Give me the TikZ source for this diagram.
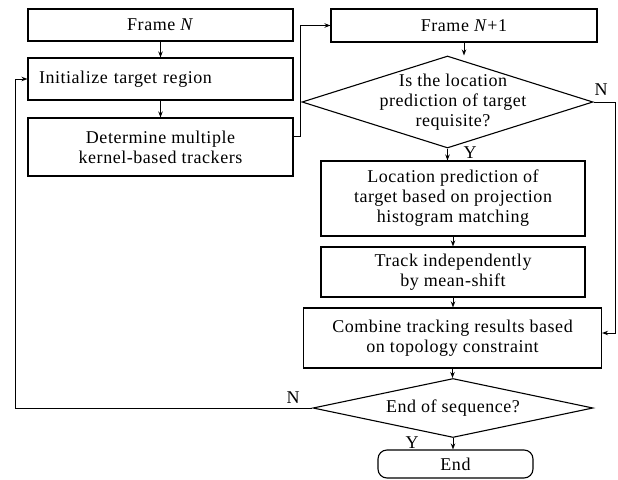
\documentclass[tikz,border=0pt]{standalone}
\usepackage{fontspec}
\setmainfont{Liberation Serif}[LetterSpace=3]
\usetikzlibrary{shapes.geometric,arrows.meta}
\tikzset{
  box/.style={draw, line width=1.1pt, rectangle, inner sep=0pt, align=center},
  dia/.style={draw, line width=1.1pt, diamond, inner sep=0pt, aspect=1},
  txt/.style={align=center, inner sep=0pt},
  endbox/.style={draw, line width=1.1pt, rectangle, rounded corners=9pt, inner sep=0pt},
  flow/.style={line width=1pt, -{Stealth[length=6pt,width=4.5pt]}},
  lab/.style={inner sep=0pt}
}
\begin{document}
\begin{tikzpicture}[x=1pt,y=-1pt,font=\fontsize{18}{20}\selectfont]
\useasboundingbox (0,0) rectangle (618,479);
% left column
\node[box, minimum width=265pt, minimum height=32pt] (fn) at (160.5,25) {Frame \textit{N}};
\node[box, text width=243pt, inner xsep=11pt, minimum height=42pt, align=left] (init) at (160.5,79) {Initialize target region};
\node[box, minimum width=265pt, minimum height=58pt] (det) at (160.5,147) {Determine multiple\\kernel-based trackers};
% right column
\node[box, minimum width=266pt, minimum height=33pt] (fn1) at (464,25.5) {Frame \textit{N}+1};
\node[dia, minimum width=291pt, minimum height=92pt] (d1) at (447.5,102) {};
\node[txt] (d1t) at (453,102) {Is the location\\prediction of target\\requisite?};
\node[box, minimum width=264pt, minimum height=75pt] (loc) at (453,198.5) {Location prediction of\\target based on projection\\histogram matching};
\node[box, minimum width=264pt, minimum height=50pt] (trk) at (453,272) {Track independently\\by mean-shift};
\node[box, minimum width=298pt, minimum height=60pt] (comb) at (452.5,338) {Combine tracking results based\\on topology constraint};
\node[dia, minimum width=280pt, minimum height=59pt] (d2) at (453,408) {};
\node[txt] (d2t) at (453,408) {End of sequence?};
\node[endbox, minimum width=155pt, minimum height=28pt] (end) at (455.5,464) {End};
% helper coordinates
\coordinate (detout) at ([yshift=11pt]det.east);
\coordinate (c1) at (300,0);
\coordinate (rr) at (615,0);
\coordinate (ll) at (15,0);
% connectors
\draw[flow] (fn.south) -- (init.north);
\draw[flow] (init.south) -- (det.north);
\draw[flow] (detout) -- (c1 |- detout) -- (c1 |- fn1.west) -- (fn1.west);
\draw[flow] (fn1.south) -- (fn1.south |- d1.north);
\draw[flow] (d1.south) -- (d1.south |- loc.north);
\draw[flow] (d1.east) -- (rr |- d1.east) -- (rr |- 0,333) -- (comb.east |- 0,333);
\draw[flow] (loc.south) -- (trk.north);
\draw[flow] (trk.south) -- (trk.south |- comb.north);
\draw[flow] (comb.south) -- (comb.south |- d2.north);
\draw[flow] (d2.south) -- (d2.south |- end.north);
\draw[flow] (d2.west) -- (ll |- d2.west) -- (ll |- init.west) -- (init.west);
% labels
\node[lab] (n1) at (601,90) {N};
\node[lab] (y1) at (470,153) {Y};
\node[lab] (n2) at (293,398) {N};
\node[lab] (y2) at (412,443) {Y};
\end{tikzpicture}
\end{document}
